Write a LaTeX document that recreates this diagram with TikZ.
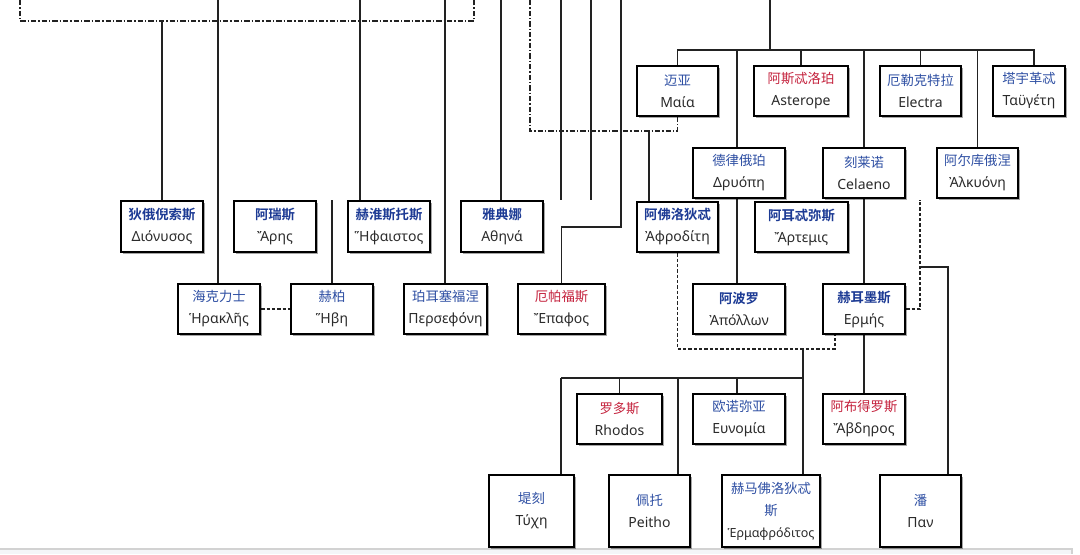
\documentclass[tikz,border=0pt]{standalone}
\usepackage{fontspec}
\setmainfont{Noto Sans}
\newfontfamily\cjk{Noto Sans CJK SC}[BoldFont={Noto Sans CJK SC Bold}]
\usetikzlibrary{shadows,backgrounds}
\definecolor{zhblue}{HTML}{2E4FA3}
\definecolor{zhbold}{HTML}{1C3A94}
\definecolor{zhred}{HTML}{C4213C}
\definecolor{grtext}{HTML}{2B2B2B}
\definecolor{linecol}{HTML}{222222}
\definecolor{framefill}{HTML}{F4F5F8}
\newcommand{\zhN}[1]{{\cjk\fontsize{10pt}{16.5pt}\selectfont\color{zhblue}#1}}
\newcommand{\zhB}[1]{{\cjk\bfseries\fontsize{10pt}{16.5pt}\selectfont\color{zhbold}#1}}
\newcommand{\zhR}[1]{{\cjk\fontsize{10pt}{16.5pt}\selectfont\color{zhred}#1}}
\newcommand{\pbox}[6]{\node[person, minimum width={(#4-#2-2)*0.75pt}, minimum height={(#5-#3-2)*0.75pt}] (#1) at ({(#2+#4)/2},{(#3+#5)/2}) {#6};}
\tikzset{
  person/.style={draw=black, line width=1.9pt, fill=white, align=center, inner sep=0pt,
    font=\fontsize{10.5pt}{16.5pt}\selectfont, text=grtext,
    drop shadow={shadow xshift=1.3pt, shadow yshift=-1.3pt, opacity=0.35, fill=black}},
  wire/.style={draw=linecol, line width=0.8pt},
  dd/.style={wire, dash pattern=on 4pt off 1.5pt on 1pt off 1.5pt},
  dsh/.style={wire, dash pattern=on 2.5pt off 1.5pt},
}
\begin{document}
\begin{tikzpicture}[x=0.75pt, y=-0.75pt]
\useasboundingbox (0,0) rectangle (1080,554);

% boxes
\pbox{maia}{636}{65}{719}{117}{\zhN{迈亚}\\Μαία}
\pbox{asterope}{753}{65}{849}{117}{\zhR{阿斯忒洛珀}\\Asterope}
\pbox{electra}{879}{65}{962}{117}{\zhN{厄勒克特拉}\\Electra}
\pbox{taygete}{992}{65}{1066}{117}{\zhN{塔宇革忒}\\Ταϋγέτη}
\pbox{dryope}{692}{147}{786}{199}{\zhN{德律俄珀}\\Δρυόπη}
\pbox{celaeno}{822}{147}{906}{199}{\zhN{刻莱诺}\\Celaeno}
\pbox{alcyone}{936}{147}{1019}{199}{\zhN{阿尔库俄涅}\\Ἀλκυόνη}
\pbox{dionysus}{120}{200}{204}{253}{\zhB{狄俄倪索斯}\\Διόνυσος}
\pbox{ares}{233}{200}{317}{253}{\zhB{阿瑞斯}\\Ἄρης}
\pbox{heph}{347}{200}{431}{253}{\zhB{赫淮斯托斯}\\Ἥφαιστος}
\pbox{athena}{460}{200}{544}{253}{\zhB{雅典娜}\\Αθηνά}
\pbox{aphro}{636}{201}{719}{253}{\zhB{阿佛洛狄忒}\\Ἀφροδίτη}
\pbox{artemis}{754}{201}{849}{253}{\zhB{阿耳忒弥斯}\\Ἄρτεμις}
\pbox{heracles}{177}{283}{261}{335}{\zhN{海克力士}\\Ἡρακλῆς}
\pbox{hebe}{290}{283}{374}{335}{\zhN{赫柏}\\Ἥβη}
\pbox{perse}{403}{283}{488}{335}{\zhN{珀耳塞福涅}\\Περσεφόνη}
\pbox{epaphos}{517}{283}{606}{335}{\zhR{厄帕福斯}\\Ἔπαφος}
\pbox{apollo}{692}{283}{786}{335}{\zhB{阿波罗}\\Ἀπόλλων}
\pbox{hermes}{822}{283}{906}{335}{\zhB{赫耳墨斯}\\Ερμής}
\pbox{rhodos}{576}{393}{663}{445}{\zhR{罗多斯}\\Rhodos}
\pbox{eunomia}{692}{393}{786}{445}{\zhN{欧诺弥亚}\\Ευνομία}
\pbox{abderos}{822}{393}{906}{445}{\zhR{阿布得罗斯}\\Ἄβδηρος}
\pbox{tyche}{488}{474}{575}{548}{\zhN{堤刻}\\Τύχη}
\pbox{peitho}{608}{474}{691}{548}{\zhN{佩托}\\Peitho}
\pbox{hermaph}{721}{474}{821}{548}{\zhN{赫马佛洛狄忒}\\\zhN{斯}\\{\fontsize{9.4pt}{16.5pt}\selectfont Ἑρμαφρόδιτος}}
\pbox{pan}{879}{474}{962}{548}{\zhN{潘}\\Παν}

% coordinates
\coordinate (rl) at (20,0);
\coordinate (rlb) at (20,21);
\coordinate (rrb) at (474,21);
\coordinate (rr) at (474,0);
\coordinate (c162) at (162,21);
\coordinate (c218) at (218,0);
\coordinate (c360) at (360,0);
\coordinate (c445) at (445,0);
\coordinate (c501) at (501,0);
\coordinate (c530) at (530,0);
\coordinate (y131) at (0,131);
\coordinate (c561) at (561,0);
\coordinate (e561) at (561,200);
\coordinate (c591) at (591,0);
\coordinate (e591) at (591,200);
\coordinate (c621) at (621,0);
\coordinate (y227) at (0,227);
\coordinate (c649) at (649,131);
\coordinate (c770) at (770,0);
\coordinate (y50) at (0,50);
\coordinate (x1034) at (1034,50);
\coordinate (x737) at (737,50);
\coordinate (c332) at (332,200);
\coordinate (y349) at (0,349);
\coordinate (x835) at (835,0);
\coordinate (x803) at (803,349);
\coordinate (y378) at (0,378);
\coordinate (x561b) at (561,378);
\coordinate (x678) at (678,378);
\coordinate (x920) at (920,200);
\coordinate (j267) at (920,267);
\coordinate (x948) at (948,267);

\begin{scope}[on background layer]
\fill[white] (0,0) rectangle (1080,554);
\fill[framefill] (0,549) rectangle (1072,554);
\draw[gray!35, line width=0.8pt] (0,549) -- (1072,549) -- (1072,554);
% connectors
\draw[dd] (rl) -- (rlb) -- (rrb) -- (rr);
\draw[wire] (c162) -- (c162 |- dionysus.north);
\draw[wire] (c218) -- (c218 |- heracles.north);
\draw[wire] (c360) -- (c360 |- heph.north);
\draw[wire] (c445) -- (c445 |- perse.north);
\draw[wire] (c501) -- (c501 |- athena.north);
\draw[dd] (c530) -- (c530 |- y131) -- (maia.south |- y131) -- (maia.south);
\draw[wire] (c561) -- (e561);
\draw[wire] (c591) -- (e591);
\draw[wire] (c621) -- (c621 |- y227) -| (epaphos.north);
\draw[wire] (c649) -- (c649 |- aphro.north);
\draw[wire] (c770) -- (c770 |- y50);
\draw[wire] (maia.north) -- (maia.north |- y50) -- (x1034) -- (x1034 |- taygete.north);
\draw[wire] (asterope.north |- y50) -- (asterope.north);
\draw[wire] (electra.north |- y50) -- (electra.north);
\draw[wire] (x737) -- (x737 |- dryope.north);
\draw[wire] (celaeno.north |- y50) -- (celaeno.north);
\draw[wire] (alcyone.north |- y50) -- (alcyone.north);
\draw[wire] (x737 |- dryope.south) -- (x737 |- apollo.north);
\draw[wire] (celaeno.south) -- (hermes.north);
\draw[wire] (hermes.south) -- (abderos.north);
\draw[wire] (c332) -- (c332 |- hebe.north);
\draw[dsh] (heracles.east) -- (hebe.west);
\draw[dsh] (aphro.south) -- (aphro.south |- y349) -- (x835 |- y349) -- (x835 |- hermes.south);
\draw[wire] (x803) -- (x803 |- hermaph.north);
\draw[wire] (x561b) -- (x803 |- y378);
\draw[wire] (x561b) -- (x561b |- tyche.north);
\draw[wire] (rhodos.north |- y378) -- (rhodos.north);
\draw[wire] (x678) -- (x678 |- peitho.north);
\draw[wire] (x737 |- y378) -- (x737 |- eunomia.north);
\draw[dsh] (hermes.east) -| (x920);
\draw[wire] (j267) -- (x948) -- (x948 |- pan.north);
\end{scope}
\end{tikzpicture}
\end{document}
